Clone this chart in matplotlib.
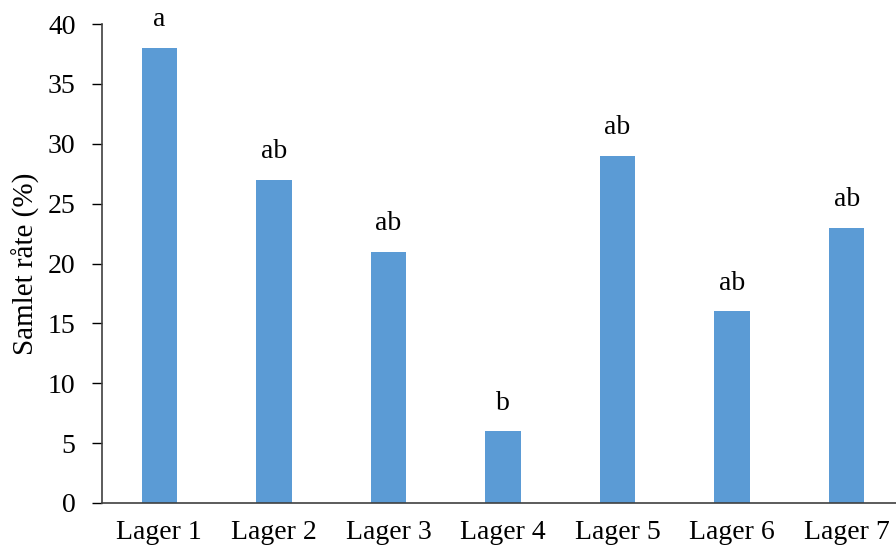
import matplotlib.pyplot as plt

categories = ["Lager 1", "Lager 2", "Lager 3", "Lager 4", "Lager 5", "Lager 6", "Lager 7"]
values = [38, 27, 21, 6, 29, 16, 23]
letters = ["a", "ab", "ab", "b", "ab", "ab", "ab"]

plt.rcParams['font.family'] = ['Liberation Serif', 'DejaVu Serif']

fig = plt.figure(figsize=(8.96, 5.52), dpi=100)
ax = fig.add_axes([102/896, 49/552, 802/896, 479/552])

x = range(len(categories))
bars = ax.bar(x, values, width=0.31, color="#5B9BD5")
for xi, v, lab in zip(x, values, letters):
    ax.text(xi, v + 1.3, lab, ha="center", va="bottom", fontsize=20)

ax.set_xlim(-0.5, 6.5)
ax.set_ylim(0, 40)
ax.set_yticks(range(0, 41, 5))
ax.set_xticks(list(x))
ax.set_xticklabels(categories)
ax.tick_params(axis="y", direction="out", length=7, width=1, pad=12, labelsize=20)
ax.tick_params(axis="x", length=0, pad=12, labelsize=20)
ax.set_ylabel("Samlet råte (%)", fontsize=21, labelpad=6)

for s in ["top", "right"]:
    ax.spines[s].set_visible(False)
for s in ["left", "bottom"]:
    ax.spines[s].set_color("#404040")
    ax.spines[s].set_linewidth(1.2)

fig.savefig("out.png", dpi=100)
